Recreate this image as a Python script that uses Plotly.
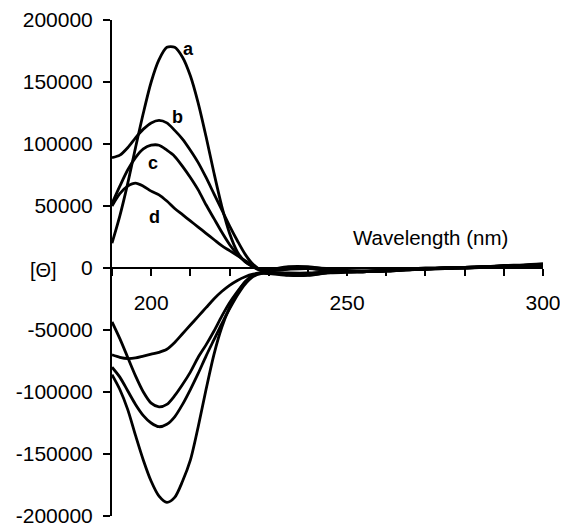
import plotly.graph_objects as go

# wavelength grid (nm)
wl = [190, 192, 194, 196, 198, 200, 202, 204, 206, 208, 210, 212, 214, 216, 218,
      220, 222, 224, 226, 228,
      230, 235, 240, 245, 250, 255, 260, 265, 270, 275, 280, 285, 290, 295, 300]

# positive spectra a-d
curve_a = [20000, 42000, 68000, 97000, 125000, 150000, 168000, 178000, 178000, 170000,
           155000, 133000, 106000, 77000, 50000, 28000, 13000, 5000, 1000, -1500,
           -1500, 1000, 1000, -1000, -2500, -2500, -2000, -1000, -500, 0, 500, 1000, 1500, 2000, 2500]
curve_b = [89000, 91000, 97000, 105000, 112000, 117000, 119000, 117000, 111000, 104000,
           95000, 85000, 73000, 60000, 47000, 34000, 22000, 11000, 3000, -1500,
           -2500, -500, 0, -1500, -3000, -3000, -2000, -1500, -500, 0, 500, 1000, 1500, 2000, 3000]
curve_c = [52000, 66000, 79000, 89000, 96000, 99000, 99000, 95000, 90000, 82000,
           73000, 63000, 51000, 40000, 29000, 19000, 11000, 5000, 1000, -2000,
           -2000, -1000, -500, -2000, -3000, -2500, -2000, -1000, -500, 0, 500, 1000, 2000, 2500, 3500]
curve_d = [50000, 60000, 66000, 68500, 66000, 62000, 59000, 54000, 48000, 43000,
           38000, 33000, 28000, 23000, 18000, 14000, 10000, 6000, 2000, -1500,
           -1500, 0, 500, -500, -2000, -2500, -1500, -1000, 0, 0, 500, 1000, 1500, 2000, 2500]

# negative spectra
curve_n1 = [-43500, -57000, -72000, -87000, -100000, -109000, -112000, -110000, -103000, -94000,
            -84000, -72000, -62000, -51000, -39000, -28000, -19000, -11000, -6000, -4000,
            -4000, -5000, -4500, -3500, -3000, -3000, -2500, -1500, -1000, -500, 0, 500, 1000, 1500, 2000]
curve_n2 = [-70000, -72000, -73000, -72500, -71000, -69500, -68000, -65500, -60000, -53000,
            -46000, -39000, -32000, -25000, -19000, -14000, -10000, -7000, -5000, -4000,
            -4000, -5500, -5500, -4000, -3500, -3000, -2500, -1500, -1000, -500, 0, 500, 1000, 1500, 1500]
curve_n3 = [-80000, -88000, -99000, -110000, -119000, -125000, -128000, -126000, -120000, -110000,
            -98000, -85000, -71000, -58000, -45000, -33000, -22000, -13000, -7000, -4500,
            -4500, -6000, -6000, -4000, -3000, -3000, -2000, -1500, -1000, 0, 0, 500, 1000, 1500, 2000]
curve_n4 = [-86000, -98000, -114000, -135000, -155000, -172000, -184000, -189000, -185000, -172000,
            -155000, -128000, -98000, -70000, -48000, -32000, -20000, -11000, -6000, -4000,
            -3500, -4000, -4000, -3000, -2500, -2500, -2000, -1000, -500, 0, 500, 1000, 1500, 2000, 2500]

curves = [curve_a, curve_b, curve_c, curve_d, curve_n1, curve_n2, curve_n3, curve_n4]

# curve labels
label_text = ["a", "b", "c", "d"]
label_x = [209.6, 206.6, 200.5, 200.8]
label_y = [176600, 121800, 84700, 41100]

# ticks
x_ticks = [190, 200, 210, 220, 230, 240, 250, 260, 270, 280, 290, 300]
x_ticktext = ["", "200", "", "", "", "", "250", "", "", "", "", "300"]
y_ticks = [-200000, -150000, -100000, -50000, 0, 50000, 100000, 150000, 200000]
y_ticktext = ["-200000", "-150000", "-100000", "-50000", "0",
              "50000", "100000", "150000", "200000"]

FONT = "Liberation Sans, Arial, sans-serif"

fig = go.Figure()
for c in curves:
    fig.add_trace(go.Scatter(x=wl, y=c, mode="lines",
                             line=dict(color="black", width=2.8, shape="spline", smoothing=0.8),
                             showlegend=False, hoverinfo="skip", cliponaxis=False))

for t, lx, ly in zip(label_text, label_x, label_y):
    fig.add_annotation(x=lx, y=ly, xref="x", yref="y", text="<b>%s</b>" % t,
                       showarrow=False, font=dict(family=FONT, size=18, color="black"))

fig.add_annotation(x=271.4, y=25000, xref="x", yref="y", text="Wavelength (nm)",
                   showarrow=False, font=dict(family=FONT, size=20.5, color="black"))
fig.add_annotation(x=-0.158, y=0.496, xref="paper", yref="paper", text="[Θ]",
                   xanchor="center", yanchor="middle",
                   showarrow=False, font=dict(family=FONT, size=20, color="black"))

# page body adds an 8px margin, so the figure is sized to fit inside the window
fig.update_layout(
    width=560, height=518,
    margin=dict(l=104, r=25, t=12, b=10, autoexpand=False),
    paper_bgcolor="white", plot_bgcolor="white",
    font=dict(family=FONT, size=21, color="black"),
    xaxis=dict(range=[190, 300], anchor="free", position=0.5, automargin=False,
               showline=True, linecolor="black", linewidth=2,
               ticks="outside", ticklen=7, tickwidth=2, tickcolor="black",
               tickvals=x_ticks, ticktext=x_ticktext, ticklabelstandoff=9,
               ticklabeloverflow="allow",
               showgrid=False, zeroline=False),
    xaxis2=dict(range=[190, 300], anchor="free", position=0.5, overlaying="x", automargin=False,
                showline=False, ticks="inside", ticklen=7, tickwidth=2, tickcolor="black",
                tickvals=x_ticks, showticklabels=False, showgrid=False, zeroline=False),
    yaxis=dict(range=[-200000, 200000], showline=True, linecolor="black", linewidth=2,
               automargin=False,
               ticks="outside", ticklen=7, tickwidth=2, tickcolor="black",
               tickvals=y_ticks, ticktext=y_ticktext, ticklabelstandoff=6,
               ticklabeloverflow="allow",
               showgrid=False, zeroline=False),
)

fig.write_html("out.html")
